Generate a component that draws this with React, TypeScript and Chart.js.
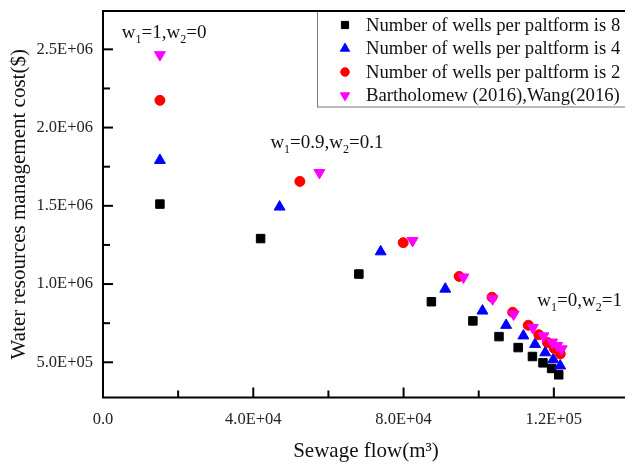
import React, { useEffect, useRef } from 'react';
import { Chart, registerables } from 'chart.js';

Chart.register(...registerables);

const SERIF = "'Liberation Serif', 'Times New Roman', serif";

// Series data (x: sewage flow m3, y: cost $)
const wells8X = [15150, 41950, 68100, 87400, 98450, 105400, 110500, 114300, 117100, 119400, 121300];
const wells8Y = [1511000, 1290500, 1064000, 887000, 764500, 664000, 594000, 537000, 496500, 460500, 420000];
const wells4X = [15150, 47000, 73900, 91100, 101000, 107300, 111900, 115000, 117700, 119850, 121700];
const wells4Y = [1791000, 1493000, 1207000, 968500, 828500, 737000, 669500, 615000, 561500, 517500, 477500];
const wells2X = [15150, 52400, 79900, 94800, 103550, 109050, 113200, 116000, 118300, 120100, 121700];
const wells2Y = [2174000, 1656000, 1264500, 1049000, 916000, 819500, 737000, 676000, 626000, 589000, 553500];
const refX = [15150, 57600, 82400, 95950, 103700, 109300, 114400, 117250, 119550, 120900, 122100];
const refY = [2465000, 1712000, 1277500, 1044000, 905000, 807500, 721000, 668000, 628500, 607000, 585000];

const seriesLabels = [
  'Number of wells per paltform is 8',
  'Number of wells per paltform is 4',
  'Number of wells per paltform is 2',
  'Bartholomew (2016),Wang(2016)',
];
const seriesColors = ['#000000', '#0000FF', '#FF0000', '#FF00FF'];
const seriesStyles = ['rect', 'triangle', 'circle', 'triangle'];
const seriesRotations = [0, 0, 0, 180];
const seriesRadius = [6, 6.3, 5, 6.3];

// Axis ranges / ticks
const X_MIN = 0;
const X_MAX = 140000;
const xTickValues = [0, 20000, 40000, 60000, 80000, 100000, 120000, 140000];
const xLabelValues = [0, 40000, 80000, 120000];
const Y_MIN = 275000;
const Y_MAX = 2745000;
const yTickValues = [500000, 750000, 1000000, 1250000, 1500000, 1750000, 2000000, 2250000, 2500000];
const yLabelValues = [500000, 1000000, 1500000, 2000000, 2500000];

// Annotations: [w1, w2] labels anchored in data coordinates (left, baseline)
const annotationW1 = ['1', '0.9', '0'];
const annotationW2 = ['0', '0.1', '1'];
const annotationX = [5000, 44550, 115600];
const annotationY = [2571000, 1868000, 857000];

function sciLabel(v: number): string {
  if (v === 0) return '0.0';
  const [m, e] = v.toExponential(1).split('e');
  const sign = e[0] === '-' ? '-' : '+';
  const digits = e.replace(/[+-]/, '').padStart(2, '0');
  return `${m}E${sign}${digits}`;
}

function toPoints(xs: number[], ys: number[]) {
  return xs.map((x, i) => ({ x, y: ys[i] }));
}

function drawMarker(ctx: CanvasRenderingContext2D, style: string, rotation: number, r: number, x: number, y: number, color: string) {
  ctx.save();
  ctx.fillStyle = color;
  ctx.strokeStyle = color;
  ctx.lineWidth = 1;
  ctx.beginPath();
  if (style === 'rect') {
    const s = Math.SQRT1_2 * r;
    ctx.rect(x - s, y - s, 2 * s, 2 * s);
  } else if (style === 'circle') {
    ctx.arc(x, y, r, 0, Math.PI * 2);
  } else {
    let rad = (rotation * Math.PI) / 180;
    ctx.moveTo(x + Math.sin(rad) * r, y - Math.cos(rad) * r);
    rad += (2 * Math.PI) / 3;
    ctx.lineTo(x + Math.sin(rad) * r, y - Math.cos(rad) * r);
    rad += (2 * Math.PI) / 3;
    ctx.lineTo(x + Math.sin(rad) * r, y - Math.cos(rad) * r);
    ctx.closePath();
  }
  ctx.fill();
  ctx.stroke();
  ctx.restore();
}

const framePlugin = {
  id: 'frameAndExtras',
  afterDraw(chart: any) {
    const { ctx, chartArea: a, scales } = chart;
    const xs = scales.x;
    const ys = scales.y;
    ctx.save();
    // legend box
    const lx = a.right - 312;
    const ly = a.top;
    const lh = 95.5;
    ctx.fillStyle = '#fff';
    ctx.fillRect(lx, ly, a.right - lx, lh);
    ctx.strokeStyle = '#777';
    ctx.lineWidth = 1;
    ctx.strokeRect(lx + 0.5, ly + 0.5, a.right - lx, lh);
    ctx.font = `18.7px ${SERIF}`;
    ctx.textBaseline = 'middle';
    ctx.textAlign = 'left';
    seriesLabels.forEach((label, i) => {
      const cy = ly + 14 + i * 23.5;
      drawMarker(ctx, seriesStyles[i], seriesRotations[i], seriesRadius[i] * 0.85, lx + 28, cy, seriesColors[i]);
      ctx.fillStyle = '#111';
      ctx.fillText(label, lx + 49, cy + 1);
    });
    // inward ticks
    ctx.strokeStyle = '#000';
    ctx.lineWidth = 2;
    ys.ticks.forEach((t: any) => {
      const p = ys.getPixelForValue(t.value);
      if (p <= a.top + 1 || p >= a.bottom - 1) return;
      const len = yLabelValues.includes(t.value) ? 10 : 7;
      ctx.beginPath();
      ctx.moveTo(a.left, p);
      ctx.lineTo(a.left + len, p);
      ctx.stroke();
    });
    xs.ticks.forEach((t: any) => {
      const p = xs.getPixelForValue(t.value);
      if (p <= a.left + 1 || p >= a.right - 1) return;
      const len = xLabelValues.includes(t.value) ? 10 : 7;
      ctx.beginPath();
      ctx.moveTo(p, a.bottom);
      ctx.lineTo(p, a.bottom - len);
      ctx.stroke();
    });
    // frame
    ctx.strokeStyle = '#000';
    ctx.lineWidth = 2;
    ctx.strokeRect(a.left, a.top, a.right - a.left, a.bottom - a.top);
    // annotations
    ctx.fillStyle = '#111';
    ctx.textBaseline = 'alphabetic';
    annotationX.forEach((vx, i) => {
      let x = xs.getPixelForValue(vx);
      const y = ys.getPixelForValue(annotationY[i]);
      const parts: [string, boolean][] = [
        ['w', false], ['1', true], ['=' + annotationW1[i] + ',w', false], ['2', true], ['=' + annotationW2[i], false],
      ];
      parts.forEach(([txt, sub]) => {
        ctx.font = sub ? `12px ${SERIF}` : `19px ${SERIF}`;
        ctx.fillText(txt, x, sub ? y + 5 : y);
        x += ctx.measureText(txt).width;
      });
    });
    ctx.restore();
  },
};

export default function App() {
  const ref = useRef<HTMLCanvasElement | null>(null);
  useEffect(() => {
    if (!ref.current) return;
    const datasets = [
      [wells8X, wells8Y],
      [wells4X, wells4Y],
      [wells2X, wells2Y],
      [refX, refY],
    ].map(([xs, ys], i) => ({
      label: seriesLabels[i],
      data: toPoints(xs, ys),
      backgroundColor: seriesColors[i],
      borderColor: seriesColors[i],
      borderWidth: 1,
      pointStyle: seriesStyles[i],
      pointRotation: seriesRotations[i],
      pointRadius: seriesRadius[i],
      order: 4 - i,
    }));
    const chart = new Chart(ref.current, {
      type: 'scatter',
      data: { datasets },
      options: {
        animation: false,
        responsive: false,
        maintainAspectRatio: false,
        layout: { padding: { left: 0, top: 11, right: 11, bottom: 0 } },
        plugins: { legend: { display: false }, tooltip: { enabled: false } },
        scales: {
          x: {
            type: 'linear',
            min: X_MIN,
            max: X_MAX,
            grid: { display: false, drawTicks: false },
            border: { display: false },
            afterBuildTicks: (s: any) => {
              s.ticks = xTickValues.map((v) => ({ value: v }));
            },
            ticks: {
              padding: 12.5,
              color: '#222',
              font: { family: SERIF, size: 16.5 },
              maxRotation: 0,
              autoSkip: false,
              callback: (v: any) => (xLabelValues.includes(Number(v)) ? sciLabel(Number(v)) : ''),
            },
            title: {
              display: true,
              text: 'Sewage flow(m³)',
              color: '#111',
              font: { family: SERIF, size: 21, lineHeight: 1 },
              padding: { top: 0, bottom: 3 },
            },
            afterFit: (s: any) => {
              s.height = 67.5;
              s.paddingLeft = 0;
              s.paddingRight = 0;
            },
          },
          y: {
            type: 'linear',
            min: Y_MIN,
            max: Y_MAX,
            grid: { display: false, drawTicks: false },
            border: { display: false },
            afterBuildTicks: (s: any) => {
              s.ticks = yTickValues.map((v) => ({ value: v }));
            },
            ticks: {
              padding: 10,
              color: '#222',
              font: { family: SERIF, size: 16.5 },
              autoSkip: false,
              callback: (v: any) => (yLabelValues.includes(Number(v)) ? sciLabel(Number(v)) : ''),
            },
            title: {
              display: true,
              text: 'Water resources management cost($)',
              color: '#111',
              font: { family: SERIF, size: 21, lineHeight: 1 },
              padding: { top: 9, bottom: 0 },
            },
            afterFit: (s: any) => {
              s.width = 103;
              s.paddingTop = 0;
              s.paddingBottom = 0;
            },
          },
        },
      },
      plugins: [framePlugin],
    } as any);
    return () => chart.destroy();
  }, []);
  return (
    <div style={{ position: 'fixed', left: 0, top: 0, width: 625, height: 465, overflow: 'hidden', background: '#fff' }}>
      <canvas ref={ref} width={640} height={465} style={{ display: 'block', width: 640, height: 465 }} />
    </div>
  );
}
